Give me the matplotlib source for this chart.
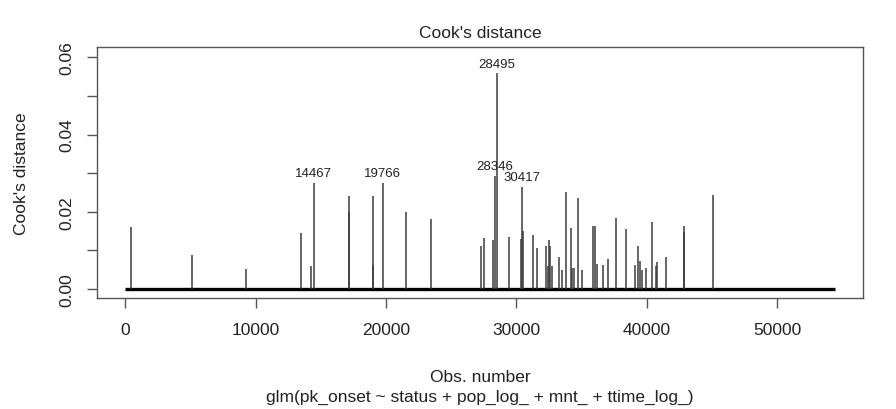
import matplotlib
matplotlib.use("Agg")
import matplotlib.pyplot as plt

plt.rcParams['font.family'] = ['Liberation Sans', 'DejaVu Sans']

# Cook's distance for the observations that stand out from the bulk
obs_index = [440, 5110, 9245, 13460, 14225, 14467, 17150, 17180, 18970, 19020,
             19766, 21525, 23440, 27270, 27525, 28210, 28346, 28495, 29415, 30340,
             30417, 30520, 31280, 31540, 32250, 32420, 32480, 32600, 32700, 33220,
             33475, 33780, 34140, 34240, 34395, 34680, 35030, 35870, 36000, 36180,
             36640, 37000, 37610, 38380, 39070, 39300, 39500, 39650, 39960, 40370,
             40670, 40800, 41420, 42800, 42850, 45070]
cooks_d = [0.0161, 0.0088, 0.0052, 0.0145, 0.0060, 0.0275, 0.0200, 0.0240, 0.0240, 0.0062,
           0.0275, 0.0200, 0.0181, 0.0112, 0.0133, 0.0128, 0.0294, 0.0559, 0.0135, 0.0130,
           0.0265, 0.0151, 0.0141, 0.0106, 0.0111, 0.0060, 0.0128, 0.0111, 0.0060, 0.0084,
           0.0050, 0.0252, 0.0158, 0.0055, 0.0055, 0.0237, 0.0050, 0.0164, 0.0164, 0.0065,
           0.0062, 0.0078, 0.0184, 0.0155, 0.0062, 0.0111, 0.0073, 0.0050, 0.0054, 0.0174,
           0.0059, 0.0069, 0.0084, 0.0162, 0.0147, 0.0244]

# the three largest are labelled, plus two more that are close
labelled_obs = [14467, 19766, 28346, 28495, 30417]
n_obs = 54420

x_ticks = [0, 10000, 20000, 30000, 40000, 50000]
y_ticks = [0.00, 0.01, 0.02, 0.03, 0.04, 0.05, 0.06]
y_ticklabels = ['0.00', '', '0.02', '', '0.04', '', '0.06']

W, H = 896, 410
fig = plt.figure(figsize=(W / 100, H / 100), dpi=100)
ax = fig.add_axes([97 / W, 1 - 299 / H, (863 - 97) / W, (299 - 48) / H])

# near-zero distances for all remaining observations form a solid baseline
ax.hlines(0.0, 1, n_obs, color='black', lw=2.4, zorder=2)
ax.vlines(obs_index, 0, cooks_d, color='#3c3c3c', lw=1.1, zorder=3)

for o in labelled_obs:
    v = cooks_d[obs_index.index(o)]
    ax.annotate(str(o), (o, v), xytext=(0, 2.5), textcoords='offset points',
                ha='center', va='bottom', fontsize=9.5, color='#222222')

ax.set_xlim(-2146, 56553)
ax.set_ylim(-0.00233, 0.0627)

ax.set_xticks(x_ticks)
ax.set_xticklabels([str(t) for t in x_ticks])
ax.set_yticks(y_ticks)
ax.set_yticklabels(y_ticklabels, rotation=90, va='center')

for s in ax.spines.values():
    s.set_color('#555555')
    s.set_linewidth(1.0)
ax.tick_params(axis='both', direction='out', length=7.5, width=1.0, color='#555555',
               labelsize=12.5, labelcolor='#222222')
ax.tick_params(axis='x', pad=10)
ax.tick_params(axis='y', pad=9)

fig.text(480 / W, 1 - 34 / H, "Cook's distance", ha='center', va='center',
         fontsize=12.5, color='#222222')
fig.text(22 / W, 1 - (48 + 299) / 2 / H, "Cook's distance", ha='center', va='center',
         rotation=90, fontsize=12.5, color='#222222')
fig.text(480 / W, 1 - 378 / H, "Obs. number", ha='center', va='center',
         fontsize=12.5, color='#222222')
fig.text(480 / W, 1 - 397 / H, "glm(pk_onset ~ status + pop_log_ + mnt_ + ttime_log_)",
         ha='center', va='center', fontsize=12.5, color='#222222')

fig.savefig('out.png', dpi=100)
